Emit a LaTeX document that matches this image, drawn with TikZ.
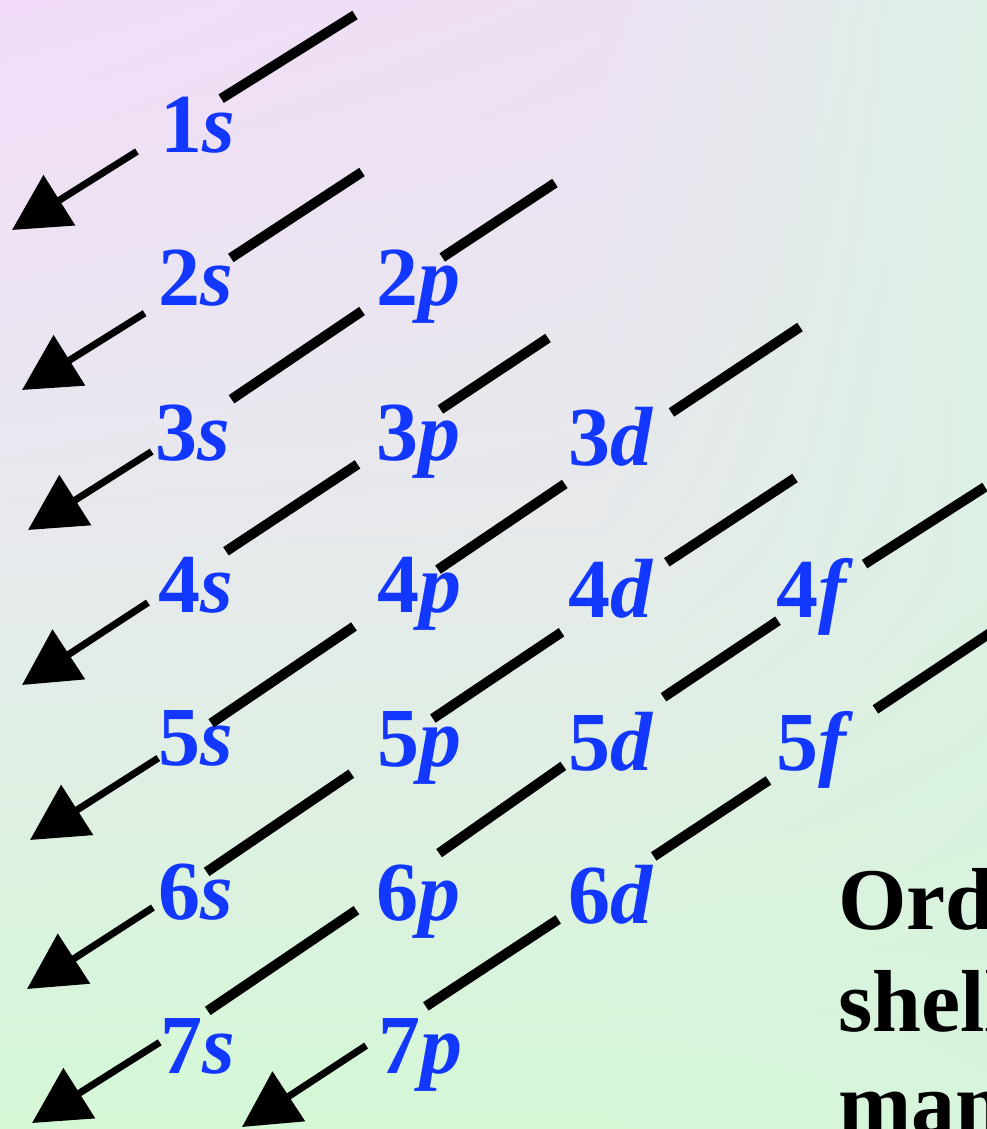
\documentclass[tikz,border=0pt]{standalone}
\usepackage{fontspec}
\setmainfont{Liberation Serif}
\usetikzlibrary{arrows.meta,shadings}
\definecolor{orbblue}{HTML}{1238FF}
\definecolor{bgtl}{HTML}{F3DCF9}
\definecolor{bgtm}{HTML}{EDE0F4}
\definecolor{bgtr}{HTML}{DDF1E6}
\definecolor{bgml}{HTML}{E6EAEC}
\definecolor{bgmm}{HTML}{E6EAEA}
\definecolor{bgmr}{HTML}{DCF0E3}
\definecolor{bgbl}{HTML}{D4F8D6}
\definecolor{bgbm}{HTML}{D4F8D6}
\definecolor{bgbr}{HTML}{D6F5DA}

\begin{document}
\begin{tikzpicture}[x=1pt, y=-1pt,
    orb/.style={text=orbblue, font=\fontsize{84}{84}\selectfont\bfseries, inner sep=0pt, anchor=base west},
    cross/.style={circle, inner sep=0pt, minimum size=#1},
    seg/.style={line width=10pt, black},
    tip/.style={line width=7pt, black, -{Triangle[length=56pt, width=58pt]}},
    note/.style={font=\fontsize{88}{102}\selectfont\bfseries, align=left, inner sep=0pt, anchor=base west},
  ]
  \useasboundingbox (0,0) rectangle (987,1129);
  \clip (0,0) rectangle (987,1129);
  %% background, four patches
  \shade[upper left=bgtl, upper right=bgtm, lower left=bgml, lower right=bgmm] (0,0) rectangle (600,565);
  \shade[upper left=bgtm, upper right=bgtr, lower left=bgmm, lower right=bgmr] (600,0) rectangle (987,565);
  \shade[upper left=bgml, upper right=bgmm, lower left=bgbl, lower right=bgbm] (0,565) rectangle (600,1129);
  \shade[upper left=bgmm, upper right=bgmr, lower left=bgbm, lower right=bgbr] (600,565) rectangle (987,1129);
  %% subshell labels
  \foreach \nm/\sh/\sub/\x/\y in {1s/1/s/160/152, 2s/2/s/158/305, 2p/2/p/376/305,
      3s/3/s/155/460, 3p/3/p/376/460, 3d/3/d/568/465,
      4s/4/s/158/612, 4p/4/p/377/612, 4d/4/d/568/617, 4f/4/f/776/617,
      5s/5/s/158/765, 5p/5/p/377/766, 5d/5/d/568/770, 5f/5/f/776/770,
      6s/6/s/158/919, 6p/6/p/376/920, 6d/6/d/568/923,
      7s/7/s/160/1073, 7p/7/p/378/1073}
    \node[orb] (\nm) at (\x,\y) {\sh\textit{\sub}};
  %% where the diagonals cross the labels
  \foreach \nm/\x/\y/\d in {1s/179/125/99, 2s/188/286/102, 2p/402/284/96,
      3s/192/426/95, 3p/399/437/99, 4s/187/577/93,
      3d/618/448/128, 4p/396/598/101, 5s/185/741/63,
      4d/614/597/126, 5p/392/746/98, 6s/180/890/64,
      4f/821/592/103, 5d/613/731/121, 6p/398/882/100, 7s/184/1027/57,
      5f/822/745/128, 6d/606/888/114, 7p/396/1026/71}
    \node[cross=\d pt] (c\nm) at (\x,\y) {};
  %% diagonal ends
  \foreach \i/\ex/\ey/\tx/\ty in {1/355/15/12/230, 2/362/172/22/390, 3/555/183/28/530,
      4/548/338/22/685, 5/800/327/30/840, 6/795/478/27/989,
      7/985/487/32/1123, 8/1005/623/242/1127} {
    \coordinate (e\i) at (\ex,\ey);
    \coordinate (t\i) at (\tx,\ty);
  }
  %% diagonals
  \draw[seg] (e1) -- (c1s); \draw[tip] (c1s) -- (t1);
  \draw[seg] (e2) -- (c2s); \draw[tip] (c2s) -- (t2);
  \draw[seg] (e3) -- (c2p) (c2p) -- (c3s); \draw[tip] (c3s) -- (t3);
  \draw[seg] (e4) -- (c3p) (c3p) -- (c4s); \draw[tip] (c4s) -- (t4);
  \draw[seg] (e5) -- (c3d) (c3d) -- (c4p) (c4p) -- (c5s); \draw[tip] (c5s) -- (t5);
  \draw[seg] (e6) -- (c4d) (c4d) -- (c5p) (c5p) -- (c6s); \draw[tip] (c6s) -- (t6);
  \draw[seg] (e7) -- (c4f) (c4f) -- (c5d) (c5d) -- (c6p) (c6p) -- (c7s); \draw[tip] (c7s) -- (t7);
  \draw[seg] (e8) -- (c5f) (c5f) -- (c6d) (c6d) -- (c7p); \draw[tip] (c7p) -- (t8);
  %% caption, cut off at the edge
  \node[note] (order) at (838,1133) {Ord\\shell\\man};
\end{tikzpicture}
\end{document}
